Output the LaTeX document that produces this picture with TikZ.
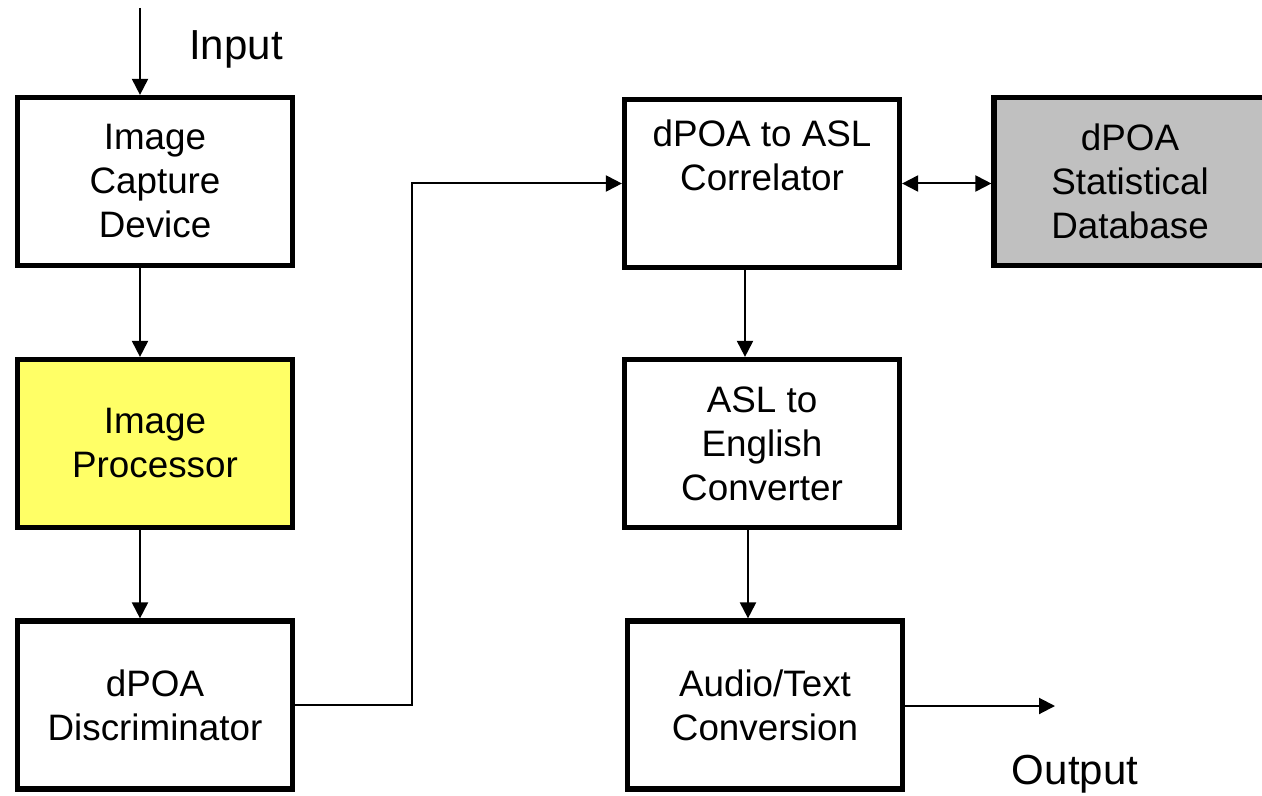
\documentclass[tikz,border=0pt]{standalone}
\usepackage{fontspec}
\setmainfont{Liberation Sans}
\usetikzlibrary{arrows.meta}
\definecolor{procyellow}{HTML}{FFFF66}
\definecolor{dbgray}{HTML}{C0C0C0}
\begin{document}
\begin{tikzpicture}[x=0.5pt,y=-0.5pt,
  block/.style={draw=black, line width=2.6pt, fill=white,
    minimum width=137.5pt, minimum height=84pt, inner sep=0pt,
    align=center, font=\fontsize{18.4pt}{22pt}\selectfont},
  flow/.style={line width=1pt, -{Triangle[length=8pt,width=8pt]}},
  biflow/.style={line width=1pt, {Triangle[length=8pt,width=8pt]}-{Triangle[length=8pt,width=8pt]}},
  caption/.style={font=\fontsize{21pt}{25pt}\selectfont, inner sep=0pt}]
\useasboundingbox (0,0) rectangle (1262,796);

% left column
\node[block] (capture) at (155,181.5) {Image\\Capture\\Device};
\node[block, fill=procyellow] (proc) at (155,443.5) {Image\\Processor};
\node[block] (disc) at (155,705) {dPOA\\Discriminator};

% right columns
\node[block] (corr) at (762,183.5) {dPOA to ASL\\Correlator\\\strut};
\node[block, fill=dbgray, minimum width=136pt] (db) at (1130,181.5) {dPOA\\Statistical\\Database};
\node[block] (conv) at (762,443.5) {ASL to\\English\\Converter};
\node[block] (audio) at (765,705) {Audio/Text\\Conversion};

% captions
\node[caption] (input) at (236,49) {Input};
\node[caption] (output) at (1075,774) {Output};

% connector helpers
\coordinate (inTop) at (140,8);
\coordinate (colL) at (140,0);
\coordinate (colA) at (745,0);
\coordinate (colB) at (748,0);
\coordinate (bend) at (412,0);
\coordinate (outEnd) at (1055,706);

% connectors
\draw[flow] (inTop) -- (colL |- capture.north);
\draw[flow] (colL |- capture.south) -- (colL |- proc.north);
\draw[flow] (colL |- proc.south) -- (colL |- disc.north);
\draw[flow] (disc.east) -| (bend |- corr.west) -- (corr.west);
\draw[biflow] (corr.east) -- (corr.east -| db.west);
\draw[flow] (colA |- corr.south) -- (colA |- conv.north);
\draw[flow] (colB |- conv.south) -- (colB |- audio.north);
\draw[flow] (audio.east |- outEnd) -- (outEnd);
\end{tikzpicture}
\end{document}
